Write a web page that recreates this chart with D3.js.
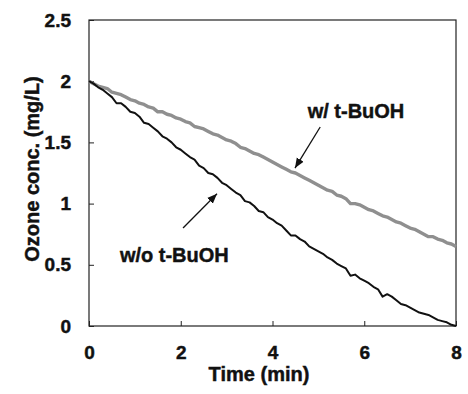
<!DOCTYPE html>
<html><head><meta charset="utf-8">
<script src="https://cdn.jsdelivr.net/npm/d3@7"></script>
<style>
html,body{margin:0;padding:0;background:#fff;}
text{font-family:"Liberation Sans",Arial,sans-serif;font-weight:bold;fill:#111;stroke:#111;stroke-width:0.45px;}
</style></head>
<body><svg id="c" width="468" height="394"></svg>
<script>
const times = [0.0,0.1,0.2,0.3,0.4,0.5,0.6,0.7,0.8,0.9,1.0,1.1,1.2,1.3,1.4,1.5,1.6,1.7,1.8,1.9,2.0,2.1,2.2,2.3,2.4,2.5,2.6,2.7,2.8,2.9,3.0,3.1,3.2,3.3,3.4,3.5,3.6,3.7,3.8,3.9,4.0,4.1,4.2,4.3,4.4,4.5,4.6,4.7,4.8,4.9,5.0,5.1,5.2,5.3,5.4,5.5,5.6,5.7,5.8,5.9,6.0,6.1,6.2,6.3,6.4,6.5,6.6,6.7,6.8,6.9,7.0,7.1,7.2,7.3,7.4,7.5,7.6,7.7,7.8,7.9,8.0];
const withTBuOH = [2.00,1.98,1.96,1.95,1.94,1.91,1.90,1.89,1.87,1.85,1.84,1.82,1.81,1.79,1.78,1.75,1.75,1.73,1.72,1.70,1.69,1.67,1.66,1.63,1.62,1.61,1.59,1.57,1.56,1.54,1.52,1.51,1.49,1.46,1.45,1.43,1.41,1.40,1.38,1.36,1.34,1.32,1.30,1.28,1.26,1.25,1.23,1.21,1.19,1.17,1.15,1.13,1.11,1.10,1.07,1.06,1.04,1.00,1.00,0.99,0.97,0.95,0.94,0.92,0.90,0.89,0.87,0.85,0.84,0.82,0.80,0.79,0.77,0.75,0.73,0.73,0.71,0.70,0.68,0.67,0.65];
const withoutTBuOH = [2.00,1.98,1.95,1.93,1.90,1.87,1.82,1.82,1.79,1.75,1.74,1.71,1.66,1.65,1.62,1.59,1.55,1.53,1.50,1.46,1.44,1.41,1.38,1.36,1.31,1.29,1.25,1.24,1.21,1.17,1.15,1.12,1.09,1.07,1.02,1.01,0.98,0.94,0.93,0.89,0.87,0.84,0.82,0.78,0.74,0.74,0.71,0.69,0.65,0.63,0.61,0.59,0.56,0.54,0.51,0.49,0.47,0.41,0.42,0.39,0.37,0.35,0.32,0.30,0.24,0.26,0.24,0.21,0.18,0.17,0.15,0.13,0.11,0.10,0.09,0.07,0.05,0.04,0.03,0.01,0.00];
const xTicks = [0,2,4,6,8];
const yTicks = [0,0.5,1,1.5,2,2.5];
const yTickLabels = ["0","0.5","1","1.5","2","2.5"];
const labels = ["w/ t-BuOH","w/o t-BuOH"];
// annotation positions in data units: [labelX, labelY, arrowFromX, arrowFromY, arrowToX, arrowToY]
const annWith = [5.82,1.70,5.04,1.626,4.49,1.29];
const annWithout = [1.86,0.52,2.05,0.80,2.79,1.08];

const svg = d3.select("#c");
const x = d3.scaleLinear().domain([0,8]).range([89,456]);
const y = d3.scaleLinear().domain([0,2.5]).range([326,20]);

svg.append("defs").append("marker").attr("id","ah").attr("viewBox","0 0 10 10")
  .attr("refX",10).attr("refY",5).attr("markerWidth",10).attr("markerHeight",10)
  .attr("markerUnits","userSpaceOnUse").attr("orient","auto")
  .append("path").attr("d","M0,1 L10,5 L0,9 Z").attr("fill","#111");

// frame
svg.append("rect").attr("x",x(0)).attr("y",y(2.5)).attr("width",x(8)-x(0)).attr("height",y(0)-y(2.5))
  .attr("fill","none").attr("stroke","#222").attr("stroke-width",1.2);

const xa = svg.append("g").attr("transform",`translate(0,${y(0)})`)
  .call(d3.axisBottom(x).tickValues(xTicks).tickFormat(d3.format("d")).tickSizeInner(-5).tickSizeOuter(0).tickPadding(20));
xa.select(".domain").remove();
xa.selectAll("text").attr("font-size",19).attr("fill","#111").attr("font-family",null);
xa.selectAll("line").attr("stroke","#222");

const ya = svg.append("g").attr("transform",`translate(${x(0)},0)`)
  .call(d3.axisLeft(y).tickValues(yTicks).tickFormat((d,i)=>yTickLabels[i]).tickSizeInner(-5).tickSizeOuter(0).tickPadding(18));
ya.select(".domain").remove();
ya.selectAll("text").attr("font-size",19).attr("fill","#111").attr("font-family",null);
ya.selectAll("line").attr("stroke","#222");

const line = d3.line().x((d,i)=>x(times[i])).y(d=>y(d));
svg.append("path").datum(withTBuOH).attr("d",line).attr("fill","none")
  .attr("stroke","#8f8f8f").attr("stroke-width",3.4).attr("stroke-linejoin","round");
svg.append("path").datum(withoutTBuOH).attr("d",line).attr("fill","none")
  .attr("stroke","#111").attr("stroke-width",2).attr("stroke-linejoin","round");

// axis titles
svg.append("text").attr("x",259).attr("y",381).attr("text-anchor","middle").attr("font-size",20).text("Time (min)");
svg.append("text").attr("transform","translate(39,169) rotate(-90)").attr("text-anchor","middle").attr("font-size",20).text("Ozone conc. (mg/L)");

// annotations
[[annWith,labels[0]],[annWithout,labels[1]]].forEach(([a,t])=>{
  svg.append("text").attr("x",x(a[0])).attr("y",y(a[1])).attr("text-anchor","middle").attr("font-size",20).text(t);
  svg.append("line").attr("x1",x(a[2])).attr("y1",y(a[3])).attr("x2",x(a[4])).attr("y2",y(a[5]))
    .attr("stroke","#111").attr("stroke-width",1.3).attr("marker-end","url(#ah)");
});
</script></body></html>
